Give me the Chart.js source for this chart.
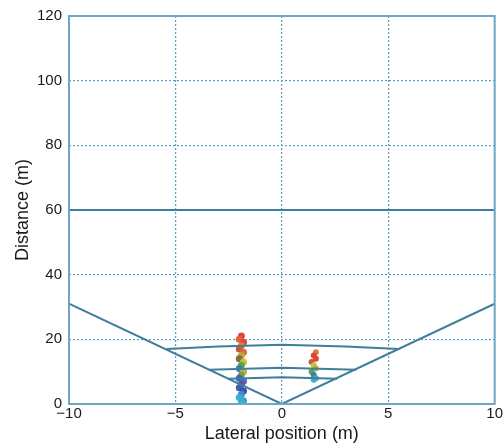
<!DOCTYPE html>
<html lang="en">
<head>
  <meta charset="UTF-8" />
  <title>Lateral position vs distance</title>
  <script src="https://cdn.jsdelivr.net/npm/chart.js"></script>
  <style>
    html, body { margin: 0; padding: 0; background: #fff; }
    #wrap { width: 504px; height: 447px; }
  </style>
</head>
<body>
  <div id="wrap"><canvas id="grafico"></canvas></div>

  <script>
    // tick labels
    const xTicks = [-10, -5, 0, 5, 10];
    const yTicks = [0, 20, 40, 60, 80, 100, 120];

    // field of view (V) and long range line
    const vLineX = [-10, 0, 10];
    const vLineY = [31, 0, 31];
    const rangeX = [-10, 10];
    const rangeY = [60, 60];

    // near range arcs
    const arc1X = [-5.4, -3, 0, 3, 5.5];
    const arc1Y = [17, 17.8, 18.3, 17.8, 17];
    const arc2X = [-3.4, 0, 3.5];
    const arc2Y = [10.6, 11.2, 10.6];
    const arc3X = [-2.5, 0, 2.6];
    const arc3Y = [7.8, 8.3, 7.8];

    // detections, left object
    const objAX = [-1.9, -2.0, -1.8, -1.9, -2.0, -1.8, -1.9, -2.0, -1.8, -1.9, -2.0, -1.8, -1.9, -2.0, -1.8, -1.9, -2.0, -1.8, -1.9, -2.0, -1.8, -1.9];
    const objAY = [21, 20, 19, 18, 17, 16, 15, 14, 13, 12, 11, 10, 9, 8, 7, 6, 5, 4, 3, 2, 1, 0.5];
    const objAC = ['#d9473a', '#e0603a', '#d9473a', '#e07b39', '#c9553a', '#d96a3a', '#b9a83a', '#8a6a3a', '#c9c23a', '#5aa84a', '#3a7fb0', '#c9b03a', '#6aa84a', '#3a5fb0', '#4a6ac0', '#6a4aa0', '#3a5fb0', '#4a4ab0', '#3a8fc8', '#3ab0d0', '#3aa0d0', '#3ab0d0'];

    // detections, right object
    const objBX = [1.6, 1.5, 1.6, 1.4, 1.5, 1.6, 1.4, 1.5, 1.6, 1.5];
    const objBY = [16, 15, 14, 13, 12, 11, 10, 9, 8, 7.5];
    const objBC = ['#e07b39', '#d9473a', '#d9473a', '#c9553a', '#c9c23a', '#b9a83a', '#5aa84a', '#3a7fb0', '#3ab0a0', '#3ab0d0'];

    const lineColor = '#3f7f9c';
    const gridColor = '#5a9cc2';

    function pts(xs, ys) {
      return xs.map((x, i) => ({ x: x, y: ys[i] }));
    }

    function lineSet(xs, ys) {
      return {
        data: pts(xs, ys),
        showLine: true,
        borderColor: lineColor,
        borderWidth: 2,
        pointRadius: 0,
        tension: 0
      };
    }

    const frame = {
      id: 'frame',
      afterDraw(chart) {
        const a = chart.chartArea;
        const c = chart.ctx;
        c.save();
        c.strokeStyle = '#6ea6c6';
        c.lineWidth = 2;
        c.strokeRect(a.left, a.top, a.right - a.left, a.bottom - a.top);
        c.restore();
      }
    };

    const ctx = document.getElementById('grafico').getContext('2d');

    const grafico = new Chart(ctx, {
      type: 'scatter',
      data: {
        datasets: [
          lineSet(rangeX, rangeY),
          lineSet(vLineX, vLineY),
          lineSet(arc1X, arc1Y),
          lineSet(arc2X, arc2Y),
          lineSet(arc3X, arc3Y),
          {
            data: pts(objAX, objAY),
            pointRadius: 3.5,
            pointBorderWidth: 0,
            backgroundColor: objAC
          },
          {
            data: pts(objBX, objBY),
            pointRadius: 3,
            pointBorderWidth: 0,
            backgroundColor: objBC
          }
        ]
      },
      options: {
        responsive: true,
        maintainAspectRatio: false,
        animation: false,
        layout: { padding: { top: 16, right: 7, left: 0, bottom: 0 } },
        plugins: {
          legend: { display: false },
          tooltip: { enabled: false }
        },
        scales: {
          x: {
            type: 'linear',
            min: -10,
            max: 10,
            afterBuildTicks: (s) => { s.ticks = xTicks.map(v => ({ value: v })); },
            afterFit: (s) => { s.height = 43; },
            ticks: {
              color: '#1a1a1a',
              font: { family: 'Liberation Sans', size: 15 },
              padding: 1,
              maxRotation: 0,
              callback: (v) => String(v).replace('-', '\u2212')
            },
            grid: { color: gridColor, lineWidth: 1.2, tickLength: 0 },
            border: { display: false, dash: [2, 2] },
            title: {
              display: true,
              text: 'Lateral position (m)',
              color: '#1a1a1a',
              font: { family: 'Liberation Sans', size: 18 },
              padding: { top: 0, bottom: 2 }
            }
          },
          y: {
            type: 'linear',
            min: 0,
            max: 120,
            afterBuildTicks: (s) => { s.ticks = yTicks.map(v => ({ value: v })); },
            afterFit: (s) => { s.width = 69; },
            ticks: {
              color: '#1a1a1a',
              font: { family: 'Liberation Sans', size: 15 },
              padding: 7
            },
            grid: { color: gridColor, lineWidth: 1.2, tickLength: 0 },
            border: { display: false, dash: [2, 2] },
            title: {
              display: true,
              text: 'Distance (m)',
              color: '#1a1a1a',
              font: { family: 'Liberation Sans', size: 18 },
              padding: { top: 12, bottom: 0 }
            }
          }
        }
      },
      plugins: [frame]
    });
  </script>
</body>
</html>
